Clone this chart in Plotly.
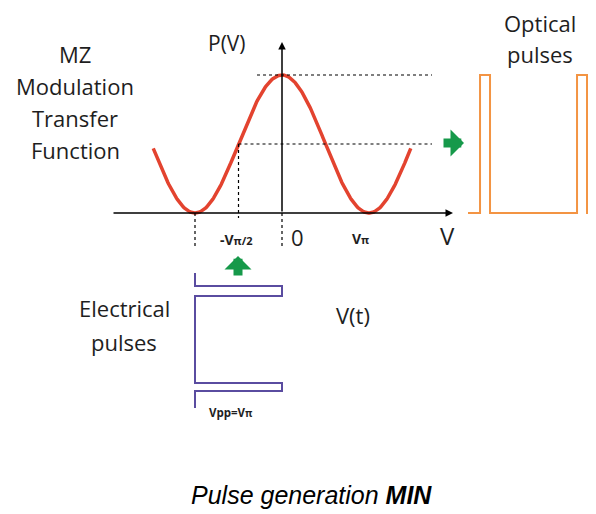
import numpy as np
import plotly.graph_objects as go

# ---- data (in units of V/Vpi, normalized power P, time in pulse periods) ----
curve_v_start = -1.48
curve_v_end = 1.48
guide_levels = [1.0, 0.5]            # P levels of horizontal dashed guides
guide_v = [-1.0, -0.5, 0.0]          # V positions of vertical dashed guides

elec_t = [0.0, 0.134, 0.134, 0.237, 0.237, 1.134, 1.134, 1.216, 1.216, 1.392]
elec_v = [-1.0, -1.0, 0.0, 0.0, -1.0, -1.0, 0.0, 0.0, -1.0, -1.0]

opt_t = [0.0, 0.124, 0.124, 0.227, 0.227, 1.124, 1.124, 1.227, 1.227, 1.35]
opt_p = [0, 0, 1, 1, 0, 0, 1, 1, 0, 0]

# ---- layout mapping (page pixels; page body has an 8px margin) ----
PW, PH, M = 596, 514, 8
W, H = PW - M, PH - M
X0, XU = 282, 87.0      # px of V=0, px per Vpi
Y0, YU = 213, 138.0     # px of P=0, px per unit P
T0x, TU = 468, 97.0     # optical time axis origin px, px per period
T0y = 273               # electrical time axis origin px

def px2v(px): return (px - X0) / XU
def py2p(py): return (Y0 - py) / YU
def pf(px): return (px - M) / W
def qf(py): return 1 - (py - M) / H

v = np.linspace(curve_v_start, curve_v_end, 300)
p = np.cos(np.pi * v / 2) ** 2

fig = go.Figure()

# transfer function
fig.add_trace(go.Scatter(x=v, y=p, mode="lines",
                         line=dict(color="#e3432f", width=3.5),
                         hoverinfo="skip", showlegend=False))

# dashed guides
dash = dict(color="black", width=1.2, dash="dot")
fig.add_trace(go.Scatter(x=[px2v(257), px2v(432)], y=[guide_levels[0]] * 2,
                         mode="lines", line=dash, showlegend=False))
fig.add_trace(go.Scatter(x=[guide_v[1], px2v(432)], y=[guide_levels[1]] * 2,
                         mode="lines", line=dash, showlegend=False))
fig.add_trace(go.Scatter(x=[guide_v[0]] * 2, y=[0, py2p(249)],
                         mode="lines", line=dash, showlegend=False))
fig.add_trace(go.Scatter(x=[guide_v[1]] * 2, y=[guide_levels[1], py2p(218)],
                         mode="lines", line=dash, showlegend=False))
fig.add_trace(go.Scatter(x=[guide_v[2]] * 2, y=[0, py2p(249)],
                         mode="lines", line=dash, showlegend=False))

# electrical pulses (V on x, time downward on y2)
fig.add_trace(go.Scatter(x=elec_v, y=elec_t, yaxis="y2", mode="lines",
                         line=dict(color="#5a4ca0", width=2),
                         showlegend=False))

# optical pulses (time on x2, power on y)
fig.add_trace(go.Scatter(x=opt_t, y=opt_p, xaxis="x2", mode="lines",
                         line=dict(color="#f39443", width=2),
                         showlegend=False))

anns = []
# axes with arrows
anns.append(dict(x=px2v(453), y=0, ax=px2v(112), ay=0, xref="x", yref="y",
                 axref="x", ayref="y", showarrow=True, arrowhead=2,
                 arrowsize=1, arrowwidth=1.5, arrowcolor="black", text=""))
anns.append(dict(x=0, y=py2p(42), ax=0, ay=0, xref="x", yref="y",
                 axref="x", ayref="y", showarrow=True, arrowhead=2,
                 arrowsize=1, arrowwidth=1.5, arrowcolor="black", text=""))
# green block arrows
green = "#16994a"
anns.append(dict(x=pf(464), y=qf(143), ax=-22, ay=0, xref="paper",
                 yref="paper", axref="pixel", ayref="pixel", showarrow=True,
                 arrowhead=1, arrowsize=0.5, arrowwidth=9, arrowcolor=green,
                 text=""))
anns.append(dict(x=pf(238), y=qf(256), ax=0, ay=21, xref="paper",
                 yref="paper", axref="pixel", ayref="pixel", showarrow=True,
                 arrowhead=1, arrowsize=0.5, arrowwidth=9, arrowcolor=green,
                 text=""))

font = "Open Sans, Noto Sans, sans-serif"
def label(text, px, py, size, color="#1e1e1e", family=font, weight="normal"):
    anns.append(dict(text=text, x=pf(px), y=qf(py), xref="paper", yref="paper",
                     showarrow=False, align="center",
                     font=dict(size=size, color=color, family=family,
                               weight=weight),
                     xanchor="center", yanchor="middle"))

for i, t in enumerate(["MZ", "Modulation", "Transfer", "Function"]):
    label(t, 75, 54 + i * 32, 22)
label("P(V)", 227, 43, 21)
label("Optical", 540, 23, 22)
label("pulses", 540, 54, 22)
label("-V<span style='font-size:11px'>π/2</span>", 236, 239, 14, weight="bold")
label("0", 297, 237, 22)
label("V<span style='font-size:11px'>π</span>", 360, 238, 14, weight="bold")
label("V", 447, 235, 24)
label("Electrical", 124, 308, 22)
label("pulses", 124, 342, 22)
label("V(t)", 353, 315, 22)
label("Vpp=V<span style='font-size:10px'>π</span>", 231, 412, 11.5,
      weight="bold")
label("<i>Pulse generation <b>MIN</b></i>", 311, 495, 25, color="black",
      family="Liberation Sans, Arial, sans-serif")

fig.update_layout(
    width=W, height=H, margin=dict(l=0, r=0, t=0, b=0),
    paper_bgcolor="white", plot_bgcolor="white",
    xaxis=dict(range=[px2v(M), px2v(PW)], visible=False, fixedrange=True),
    yaxis=dict(range=[py2p(PH), py2p(M)], visible=False, fixedrange=True),
    xaxis2=dict(range=[(M - T0x) / TU, (PW - T0x) / TU], overlaying="x",
                visible=False),
    yaxis2=dict(range=[(PH - T0y) / TU, (M - T0y) / TU], overlaying="y",
                visible=False),
    annotations=anns,
    showlegend=False,
)

fig.write_html("out.html")
